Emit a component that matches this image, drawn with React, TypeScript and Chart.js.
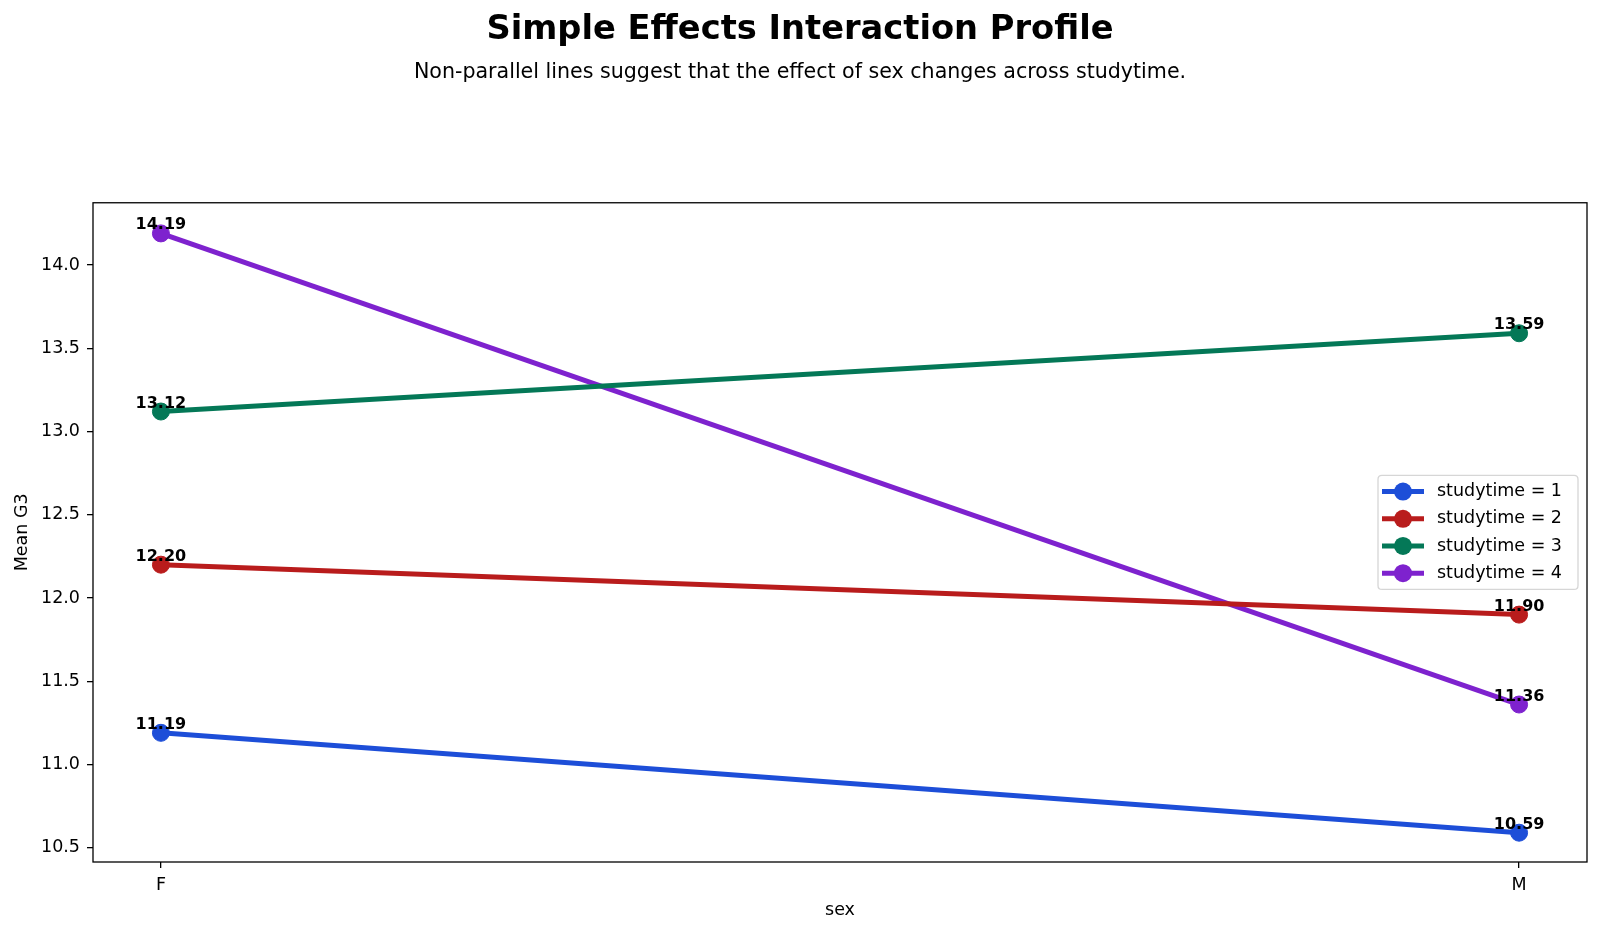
import React, { useEffect, useRef } from "react";
import { Chart, registerables } from "chart.js";

Chart.register(...registerables);

// Categories and series values
const SEX = ["F", "M"];
const STUDYTIME_LEVELS = ["1", "2", "3", "4"];
const MEAN_G3_STUDY1 = [11.19, 10.59];
const MEAN_G3_STUDY2 = [12.2, 11.9];
const MEAN_G3_STUDY3 = [13.12, 13.59];
const MEAN_G3_STUDY4 = [14.19, 11.36];
const SERIES = [MEAN_G3_STUDY1, MEAN_G3_STUDY2, MEAN_G3_STUDY3, MEAN_G3_STUDY4];
const COLORS = ["#1d4ed8", "#b91c1c", "#047857", "#7e22ce"];

// Axis ticks
const X_TICKS = [0, 1];
const Y_TICKS = [10.5, 11.0, 11.5, 12.0, 12.5, 13.0, 13.5, 14.0];

const FONT = "'DejaVu Sans', 'Liberation Sans', sans-serif";

const TITLE = "Simple Effects Interaction Profile";
const SUBTITLE = "Non-parallel lines suggest that the effect of sex changes across studytime.";

// Box around the plotting area
const framePlugin = {
  id: "frame",
  afterDatasetsDraw(chart: any) {
    const { ctx, chartArea } = chart;
    ctx.save();
    ctx.strokeStyle = "#000";
    ctx.lineWidth = 1.3;
    ctx.strokeRect(chartArea.left, chartArea.top, chartArea.right - chartArea.left, chartArea.bottom - chartArea.top);
    ctx.restore();
  },
};

// Value labels over every marker
const valueLabelPlugin = {
  id: "valueLabels",
  afterDatasetsDraw(chart: any) {
    const { ctx } = chart;
    ctx.save();
    ctx.font = `bold 16px ${FONT}`;
    ctx.fillStyle = "#000";
    ctx.textAlign = "center";
    ctx.textBaseline = "alphabetic";
    chart.data.datasets.forEach((ds: any, di: number) => {
      const meta = chart.getDatasetMeta(di);
      meta.data.forEach((pt: any, i: number) => {
        const v = ds.data[i].y;
        ctx.fillText(v.toFixed(2), pt.x, pt.y - 4);
      });
    });
    ctx.restore();
  },
};

// Legend box at the right centre of the plot
const legendPlugin = {
  id: "boxLegend",
  afterDraw(chart: any) {
    const { ctx, chartArea } = chart;
    const right = chartArea.right - 9;
    const width = 200;
    const height = 114;
    const left = right - width;
    const cy = (chartArea.top + chartArea.bottom) / 2;
    const top = cy - height / 2;
    ctx.save();
    ctx.beginPath();
    const r = 4;
    ctx.moveTo(left + r, top);
    ctx.lineTo(right - r, top);
    ctx.quadraticCurveTo(right, top, right, top + r);
    ctx.lineTo(right, top + height - r);
    ctx.quadraticCurveTo(right, top + height, right - r, top + height);
    ctx.lineTo(left + r, top + height);
    ctx.quadraticCurveTo(left, top + height, left, top + height - r);
    ctx.lineTo(left, top + r);
    ctx.quadraticCurveTo(left, top, left + r, top);
    ctx.closePath();
    ctx.fillStyle = "rgba(255,255,255,0.8)";
    ctx.fill();
    ctx.strokeStyle = "rgba(204,204,204,0.8)";
    ctx.lineWidth = 1.3;
    ctx.stroke();

    const rowGap = 27.2;
    chart.data.datasets.forEach((ds: any, i: number) => {
      const y = cy + (i - 1.5) * rowGap;
      ctx.strokeStyle = ds.borderColor;
      ctx.lineWidth = 5;
      ctx.lineCap = "butt";
      ctx.beginPath();
      ctx.moveTo(left + 4, y);
      ctx.lineTo(left + 46, y);
      ctx.stroke();
      ctx.fillStyle = ds.borderColor;
      ctx.beginPath();
      ctx.arc(left + 25, y, 9, 0, Math.PI * 2);
      ctx.fill();
      ctx.fillStyle = "#000";
      ctx.font = `17.5px ${FONT}`;
      ctx.textAlign = "left";
      ctx.textBaseline = "middle";
      ctx.fillText(ds.label, left + 59, y);
    });
    ctx.restore();
  },
};

export default function App() {
  const canvasRef = useRef<HTMLCanvasElement | null>(null);

  useEffect(() => {
    document.body.style.margin = "0";
    document.body.style.overflow = "hidden";
    const canvas = canvasRef.current;
    if (!canvas) return;

    const datasets = SERIES.map((values, i) => ({
      label: `studytime = ${STUDYTIME_LEVELS[i]}`,
      data: values.map((y, x) => ({ x, y })),
      borderColor: COLORS[i],
      backgroundColor: COLORS[i],
      borderWidth: 5,
      pointRadius: 8.5,
      pointBorderWidth: 1,
      pointBackgroundColor: COLORS[i],
      pointBorderColor: COLORS[i],
      tension: 0,
    }));

    const chart = new Chart(canvas, {
      type: "line",
      data: { datasets },
      plugins: [framePlugin, valueLabelPlugin, legendPlugin],
      options: {
        animation: false,
        responsive: false,
        devicePixelRatio: 1,
        layout: { padding: { left: 0, right: 0, top: 0, bottom: 0 } },
        plugins: {
          legend: { display: false },
          tooltip: { enabled: false },
          title: {
            display: true,
            text: TITLE,
            color: "#000",
            font: { family: FONT, size: 33.7, weight: "bold" },
            padding: { top: 10.5, bottom: 0 },
          },
          subtitle: {
            display: true,
            text: SUBTITLE,
            color: "#000",
            font: { family: FONT, size: 20.6 },
            padding: { top: 9.2, bottom: 117.9 },
          },
        },
        scales: {
          x: {
            type: "linear",
            min: -0.05,
            max: 1.05,
            afterFit: (s: any) => {
              s.height = 70;
            },
            afterBuildTicks: (s: any) => {
              s.ticks = X_TICKS.map((value) => ({ value }));
            },
            ticks: {
              color: "#000",
              font: { family: FONT, size: 17.5 },
              padding: 7,
              maxRotation: 0,
              autoSkip: false,
              callback: (v: any) => SEX[v] ?? "",
            },
            grid: {
              display: true,
              drawOnChartArea: false,
              drawTicks: true,
              tickLength: 6,
              color: "#000",
              lineWidth: 1.3,
            },
            border: { display: false },
            title: {
              display: true,
              text: "sex",
              color: "#000",
              font: { family: FONT, size: 17.5 },
              padding: { top: 0, bottom: 11.5 },
            },
          },
          y: {
            type: "linear",
            min: 10.414,
            max: 14.374,
            afterFit: (s: any) => {
              s.width = 93;
            },
            afterBuildTicks: (s: any) => {
              s.ticks = Y_TICKS.map((value) => ({ value }));
            },
            ticks: {
              color: "#000",
              font: { family: FONT, size: 17.5 },
              padding: 7,
              autoSkip: false,
              callback: (v: any) => Number(v).toFixed(1),
            },
            grid: {
              display: true,
              drawOnChartArea: false,
              drawTicks: true,
              tickLength: 6,
              color: "#000",
              lineWidth: 1.3,
            },
            border: { display: false },
            title: {
              display: true,
              text: "Mean G3",
              color: "#000",
              font: { family: FONT, size: 17.5 },
              padding: { top: 12, bottom: 0 },
            },
          },
          // empty right-hand margin strip so the titles stay centred on the figure
          rightMargin: {
            type: "linear",
            position: "right",
            display: true,
            afterFit: (s: any) => {
              s.width = 13;
            },
            ticks: { display: false },
            grid: { display: false },
            border: { display: false },
          },
        },
      },
    });

    return () => chart.destroy();
  }, []);

  return (
    <div style={{ width: 1600, height: 932, background: "#fff" }}>
      <canvas ref={canvasRef} width={1600} height={932} />
    </div>
  );
}
